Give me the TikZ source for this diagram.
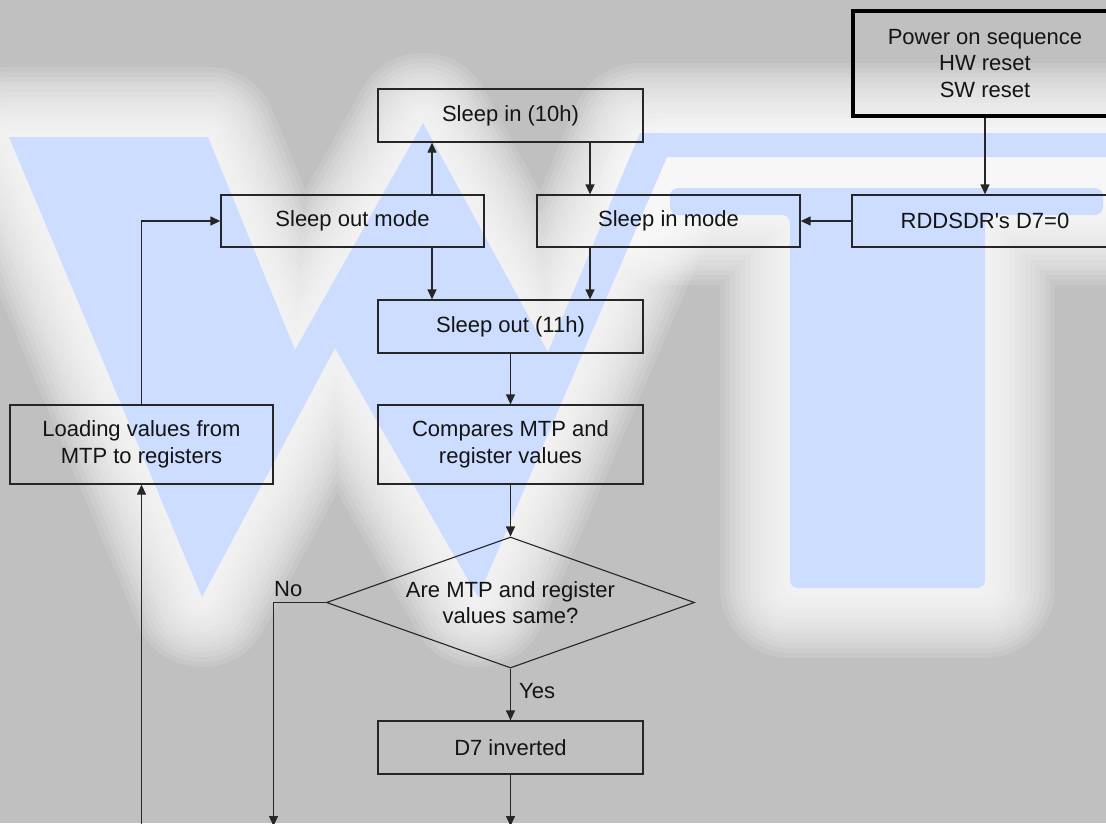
\documentclass[tikz,border=0pt]{standalone}
\usepackage{fontspec}
\setmainfont{Liberation Sans}
\usetikzlibrary{arrows.meta,shapes.geometric}
\definecolor{bg}{HTML}{C0C0C0}
\definecolor{wm}{HTML}{CCDDFF}
\definecolor{ln}{HTML}{262626}
\definecolor{txt}{HTML}{141414}
\begin{document}
\begin{tikzpicture}[x=1pt,y=-1pt,
  txtfont/.style={font=\fontsize{22}{26.5}\selectfont},
  box/.style={draw=ln, line width=1.3pt, minimum width=265pt, minimum height=53pt,
    inner sep=0pt, align=center, txtfont, text=txt},
  conn/.style={draw=ln, line width=1.3pt, -{Triangle[length=10pt,width=9pt]}},
  lbl/.style={txtfont, inner sep=0pt, text=txt},
  wshape/.style={insert path={(9,137) -- (208,137) -- (295,350) -- (423,123) -- (548,352)
      -- (640,133) -- (1120,133) -- (1120,157) -- (667,157) -- (478,597) -- (335,348)
      -- (202,597) -- cycle}},
  tshape/.style={insert path={(670,188) -- (1103,188) -- (1103,215) -- (985,215)
      -- (985,588) -- (790,588) -- (790,215) -- (670,215) -- cycle}}
]
% background and watermark
\useasboundingbox (0,0) rectangle (1106,823);
\fill[bg] (0,0) rectangle (1106,823);
\begin{scope}
\clip (0,0) rectangle (1106,823);
\foreach \w in {140,130,...,10}{
  \draw[white, line width=\w pt, opacity=0.12, line join=round, wshape];
  \draw[white, line width=\w pt, opacity=0.12, line join=round, tshape];
}
\fill[wm, wshape];
\fill[wm, rounded corners=8pt, tshape];
\end{scope}

% nodes
\node[box, line width=3.5pt, draw=black, minimum width=264pt, minimum height=105pt]
  (power) at (985,63.5) {Power on sequence\\HW reset\\SW reset};
\node[box] (sleepin10) at (510.5,115.5) {Sleep in (10h)};
\node[box, minimum width=263pt, minimum height=52pt] (sleepoutmode) at (352.5,221) {Sleep out mode};
\node[box, minimum width=263pt, minimum height=52pt] (sleepinmode) at (668.5,221) {Sleep in mode};
\node[box, minimum width=266pt, minimum height=52pt] (rdd) at (985,221) {RDDSDR\textquotesingle s D7=0};
\node[box] (sleepout11) at (510.5,326.5) {Sleep out (11h)};
\node[box, minimum width=263pt, minimum height=79pt] (loading) at (141.5,444.5) {Loading values from\\MTP to registers};
\node[box, minimum height=79pt] (compares) at (510.5,444.5) {Compares MTP and\\register values};
\node[draw=ln, line width=1.1pt, shape=diamond, shape aspect=2.8, minimum width=368pt,
  minimum height=131pt, inner sep=0pt, align=center, txtfont, text=txt]
  (dia) at (510.5,602.5) {Are MTP and register\\values same?};
\node[box, minimum height=53pt] (d7inv) at (510.5,747.5) {D7 inverted};
\node[lbl, anchor=west] (no) at (274,589) {No};
\node[lbl, anchor=west] (yes) at (519,691) {Yes};

% helper coordinates
\coordinate (xl) at (432,0);
\coordinate (xr) at (590,0);
\coordinate (xno) at (273.5,0);
\coordinate (bot) at (0,826);

% connectors
\draw[conn] (xl |- sleepoutmode.north) -- (xl |- sleepin10.south);
\draw[conn] (xr |- sleepin10.south) -- (xr |- sleepinmode.north);
\draw[conn] (xl |- sleepoutmode.south) -- (xl |- sleepout11.north);
\draw[conn] (xr |- sleepinmode.south) -- (xr |- sleepout11.north);
\draw[conn] (power.south) -- (rdd.north);
\draw[conn] (rdd.west) -- (sleepinmode.east);
\draw[conn] (sleepout11.south) -- (compares.north);
\draw[conn] (compares.south) -- (dia.north);
\draw[conn] (dia.south) -- (d7inv.north);
\draw[conn] (d7inv.south) -- (d7inv.south |- bot);
\draw[conn] (dia.west) -- (xno |- dia.west) -- (xno |- bot);
\draw[conn] (loading.south |- bot) -- (loading.south);
\draw[conn] (loading.north) -- (loading.north |- sleepoutmode.west) -- (sleepoutmode.west);
\end{tikzpicture}
\end{document}
